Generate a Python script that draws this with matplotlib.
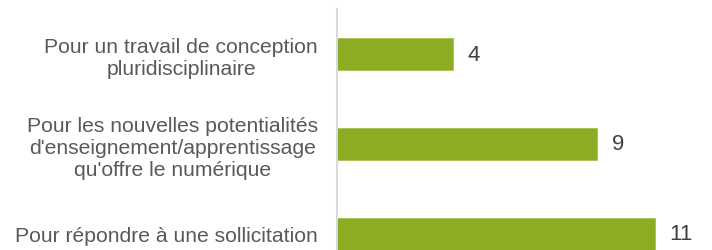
import matplotlib.pyplot as plt

# données
categories = [
    "Pour un travail de conception\npluridisciplinaire",
    "Pour les nouvelles potentialités\nd'enseignement/apprentissage\nqu'offre le numérique",
    "Pour répondre à une sollicitation",
]
values = [4, 9, 11]

plt.rcParams['font.family'] = ['Liberation Sans', 'DejaVu Sans']

fig = plt.figure(figsize=(7.12, 2.51), dpi=100)
W, H = 712, 251
# l'axe dépasse en bas de l'image (graphique rogné)
ax = fig.add_axes([337 / W, -29 / H, 347 / W, 270 / H])

pos = range(len(values))
ax.barh(pos, values, height=0.355, color='#8BAC23', edgecolor='#A4C24A', linewidth=0.6)
ax.set_ylim(2.5, -0.5)
ax.set_xlim(0, 12)

for p, v in zip(pos, values):
    ax.text(v + 0.5, p, str(v), va='center', ha='left', fontsize=16, color='#404040')

ax.set_yticks(list(pos))
ax.set_yticklabels(categories, fontsize=15.2, color='#595959', ha='right',
                   multialignment='center', linespacing=1.18)
ax.tick_params(axis='y', length=0, pad=13.7)
ax.set_xticks([])

for s in ['top', 'right', 'bottom']:
    ax.spines[s].set_visible(False)
ax.spines['left'].set_color('#D9D9D9')
ax.spines['left'].set_linewidth(1.5)

fig.savefig('out.png', dpi=100)
